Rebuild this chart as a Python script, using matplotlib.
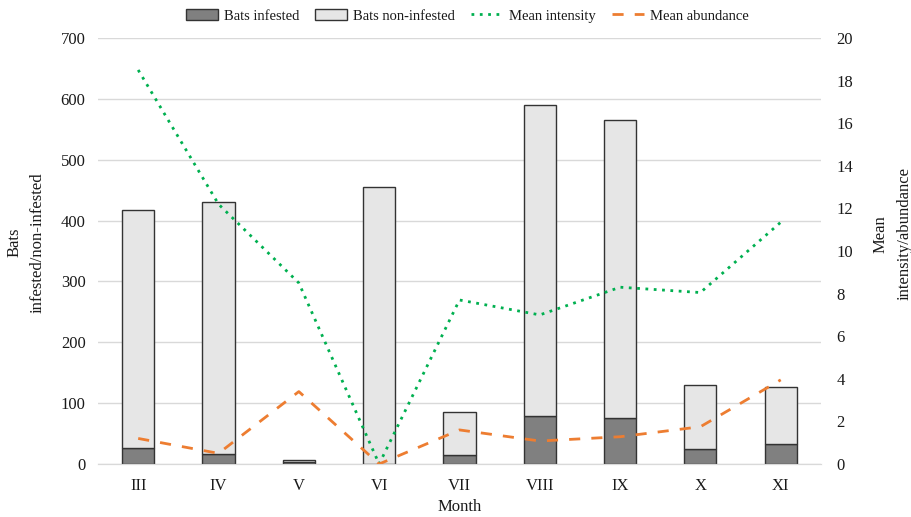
import numpy as np
import matplotlib
matplotlib.use('Agg')
import matplotlib.pyplot as plt

plt.rcParams['font.family'] = ['Liberation Serif', 'DejaVu Serif']

months = ['III', 'IV', 'V', 'VI', 'VII', 'VIII', 'IX', 'X', 'XI']
infested = [26, 16, 3, 0, 15, 79, 75, 24, 33]
non_infested = [391, 415, 4, 455, 71, 511, 490, 106, 93]
mean_intensity = [18.5, 12.2, 8.5, 0.0, 7.7, 7.0, 8.3, 8.05, 11.35]
mean_abundance = [1.2, 0.5, 3.4, 0.0, 1.6, 1.08, 1.28, 1.75, 3.95]

x = np.arange(len(months))

fig = plt.figure(figsize=(9.11, 5.17), dpi=100)
ax = fig.add_axes([0.1076, 0.1025, 0.7935, 0.824])
ax2 = ax.twinx()

edge = '#333333'
txt = '#1a1a1a'
b1 = ax.bar(x, infested, width=0.4, color='#808080', edgecolor=edge, linewidth=1, zorder=3,
            label='Bats infested')
b2 = ax.bar(x, non_infested, width=0.4, bottom=infested, color='#e6e6e6', edgecolor=edge,
            linewidth=1, zorder=3, label='Bats non-infested')

l1, = ax2.plot(x, mean_intensity, color='#00b050', linestyle=(0, (1, 2)), linewidth=2,
               label='Mean intensity')
l2, = ax2.plot(x, mean_abundance, color='#ed7d31', linestyle=(0, (4, 4)), linewidth=2,
               label='Mean abundance')

ax.set_xlim(-0.5, len(months) - 0.5)
ax.set_ylim(0, 700)
ax.set_yticks(range(0, 701, 100))
ax2.set_ylim(0, 20)
ax2.set_yticks(range(0, 21, 2))
ax.set_xticks(x)
ax.set_xticklabels(months)

ax.grid(axis='y', color='#d9d9d9', linewidth=1, zorder=0)
for a in (ax, ax2):
    for s in ('top', 'left', 'right'):
        a.spines[s].set_visible(False)
    a.spines['bottom'].set_color('#d9d9d9')
    a.tick_params(length=0, labelsize=12, colors=txt)
ax.tick_params(axis='y', pad=9)
ax2.tick_params(axis='y', pad=11)
ax.tick_params(axis='x', pad=10)

ax.set_ylabel('Bats\ninfested/non-infested', fontsize=12, color=txt, linespacing=1.6)
ax.yaxis.set_label_coords(-0.072, 0.52)
ax2.set_ylabel('Mean\nintensity/abundance', fontsize=12, color=txt, rotation=90, linespacing=1.6)
ax2.yaxis.set_label_coords(1.072, 0.54)
ax.set_xlabel('Month', fontsize=12, color=txt)
ax.xaxis.set_label_coords(0.5, -0.083)

fig.legend([b1, b2, l1, l2], ['Bats infested', 'Bats non-infested', 'Mean intensity', 'Mean abundance'],
           loc='upper center', bbox_to_anchor=(0.513, 1.008), ncol=4, frameon=False, fontsize=10.5,
           handlelength=2.2, handleheight=0.8, columnspacing=1.1, handletextpad=0.4,
           labelcolor=txt)

fig.savefig('out.png', dpi=100)
